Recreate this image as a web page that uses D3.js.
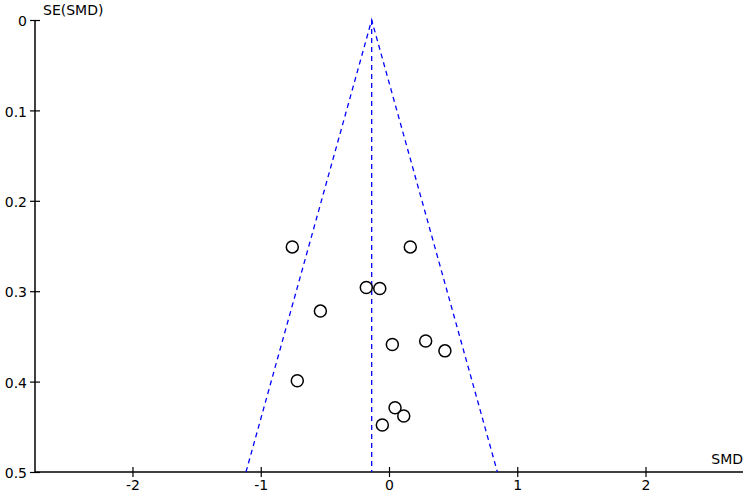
<!DOCTYPE html>
<html>
<head>
<meta charset="utf-8">
<script src="https://cdn.jsdelivr.net/npm/d3@7"></script>
<style>
  body { margin: 0; background: #fff; }
  text { font-family: "DejaVu Sans", sans-serif; }
</style>
</head>
<body>
<svg id="funnel" width="748" height="495"></svg>
<script>
// study estimates
const smd = [-0.754, 0.166, -0.177, -0.072, -0.535, -0.715, 0.026, 0.286, 0.436, 0.047, 0.115, -0.052];
const se  = [0.251, 0.251, 0.296, 0.297, 0.322, 0.399, 0.359, 0.355, 0.366, 0.429, 0.438, 0.448];
const pooled = -0.135;
const xTicks = [-2, -1, 0, 1, 2];
const yTicks = [0, 0.1, 0.2, 0.3, 0.4, 0.5];

const svg    = d3.select("#funnel"),
      x      = d3.scaleLinear().domain([-2.76, 2.76]).range([35, 743]),
      y      = d3.scaleLinear().domain([0, 0.5]).range([20, 472]);

//y axis
const yAxis = svg.append("g")
    .attr("transform", `translate(${x(-2.76)},0)`)
    .call(d3.axisLeft(y).tickValues(yTicks).tickSize(5).tickFormat(d => d));
yAxis.select(".domain").attr("d", `M0,${y(0)}V${y(0.5)}`).attr("stroke-width", 1.5);
yAxis.selectAll(".tick line").attr("x1", 5).attr("x2", -5).attr("stroke-width", 1.2);
yAxis.selectAll(".tick text").attr("x", -8).attr("dy", "0.4em").style("font-size", "14px").attr("fill", "#000");

//x axis
const xAxis = svg.append("g")
    .attr("transform", `translate(0,${y(0.5)})`)
    .call(d3.axisBottom(x).tickValues(xTicks).tickSize(5).tickFormat(d => d));
xAxis.select(".domain").attr("d", `M${x(-2.76)},0H${x(2.76)}`).attr("stroke-width", 1.5);
xAxis.selectAll(".tick line").attr("y1", -5).attr("y2", 5).attr("stroke-width", 1.2);
xAxis.selectAll(".tick text").attr("y", 8).style("font-size", "14px").attr("fill", "#000");

//funnel lines (95% limits)
const dash = "5,4";
svg.append("line")
    .attr("x1", x(pooled)).attr("y1", y(0))
    .attr("x2", x(pooled)).attr("y2", y(0.5))
    .attr("stroke", "#0000ff").attr("stroke-width", 1.3).attr("stroke-dasharray", dash);

svg.append("path")
    .attr("d", d3.line()([
      [x(pooled - 1.96 * 0.5), y(0.5)],
      [x(pooled), y(0)],
      [x(pooled + 1.96 * 0.5), y(0.5)]
    ]))
    .attr("fill", "none")
    .attr("stroke", "#0000ff").attr("stroke-width", 1.3).attr("stroke-dasharray", dash);

//studies
svg.selectAll(".study")
  .data(smd)
  .enter().append("circle")
    .attr("class", "study")
    .attr("cx", d => x(d))
    .attr("cy", (d, i) => y(se[i]))
    .attr("r", 6)
    .attr("fill", "#fff")
    .attr("stroke", "#000")
    .attr("stroke-width", 1.5);

//axis titles
svg.append("text")
    .attr("x", 43)
    .attr("y", 15)
    .style("font-size", "14px")
    .text("SE(SMD)");

svg.append("text")
    .attr("x", 743)
    .attr("y", 464)
    .attr("text-anchor", "end")
    .style("font-size", "14px")
    .text("SMD");
</script>
</body>
</html>
